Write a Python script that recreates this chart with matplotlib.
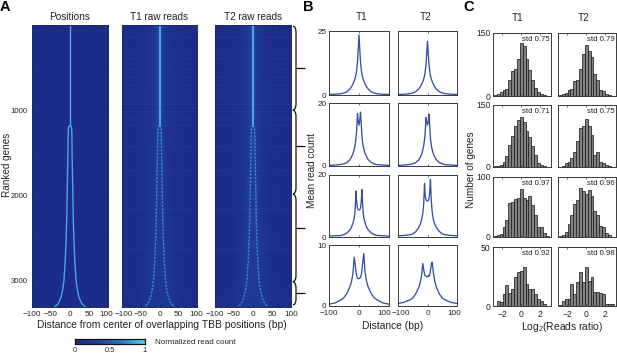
import numpy as np
import matplotlib
matplotlib.use("Agg")
import matplotlib.pyplot as plt
from matplotlib.colors import LinearSegmentedColormap
from matplotlib.path import Path
from matplotlib.patches import PathPatch
from matplotlib.transforms import ScaledTranslation

plt.rcParams['font.family'] = ['Liberation Sans', 'DejaVu Sans']
plt.rcParams['mathtext.default'] = 'regular'
plt.rcParams['axes.linewidth'] = 0.7

W, H = 617, 354
TXT = '#222222'
FRAME = '#3a3a3a'

# ---------- Panel A data ----------
TRACE_RANK = [1180, 1190, 1200, 1300, 1500, 1750, 2000, 2250, 2500, 2700, 2800, 2900, 3000, 3100, 3200, 3270, 3310]
TRACE_OFFSET = [0, 2.5, 4, 5, 5.5, 6.5, 7.5, 8.5, 10, 12, 13, 14.5, 16, 19, 24, 31, 40]
HEAT_X = [-100, -60, -40, -25, -15, -8, 0, 8, 15, 25, 40, 60, 100]
HEAT_RANK = [0, 500, 1000, 1180, 1500, 2000, 2500, 3000, 3310]
POS_HEAT = [[0.04] * 13 for _ in HEAT_RANK]
T1_HEAT = [
    [.04, .05, .07, .10, .15, .22, .42, .22, .15, .10, .07, .05, .04],
    [.04, .05, .07, .10, .15, .22, .42, .22, .15, .10, .07, .05, .04],
    [.04, .06, .08, .11, .16, .22, .42, .22, .16, .11, .08, .06, .04],
    [.04, .06, .08, .11, .17, .24, .38, .24, .17, .11, .08, .06, .04],
    [.04, .05, .07, .11, .18, .26, .28, .26, .18, .11, .07, .05, .04],
    [.04, .05, .07, .11, .20, .26, .24, .26, .20, .11, .07, .05, .04],
    [.04, .05, .08, .14, .23, .24, .21, .24, .23, .14, .08, .05, .04],
    [.04, .06, .09, .18, .22, .21, .20, .21, .22, .18, .09, .06, .04],
    [.05, .07, .14, .18, .19, .18, .18, .18, .19, .18, .14, .07, .05],
]
T2_HEAT = [
    [.04, .05, .07, .11, .17, .24, .42, .24, .17, .11, .07, .05, .04],
    [.04, .05, .07, .11, .17, .24, .42, .24, .17, .11, .07, .05, .04],
    [.04, .06, .08, .12, .18, .24, .42, .24, .18, .12, .08, .06, .04],
    [.04, .06, .08, .12, .19, .26, .38, .26, .19, .12, .08, .06, .04],
    [.04, .05, .07, .12, .20, .28, .30, .28, .20, .12, .07, .05, .04],
    [.04, .05, .07, .12, .22, .28, .26, .28, .22, .12, .07, .05, .04],
    [.04, .05, .09, .15, .25, .26, .24, .26, .25, .15, .09, .05, .04],
    [.04, .06, .10, .20, .24, .23, .22, .23, .24, .20, .10, .06, .04],
    [.05, .07, .15, .20, .21, .20, .19, .20, .21, .20, .15, .07, .05],
]
STREAK_RANK = [140, 300, 390, 520, 610, 700, 780, 850, 930, 1010, 1090, 1170, 1420, 1700, 2150, 2620]
RANK_TICKS = [500, 1000, 1500, 2000, 2500, 3000]
RANK_LABELS = ['', '1000', '', '2000', '', '3000']
BRACE_RANK = [0, 1000, 1985, 3013, 3285]
BRACE_TICKS = [504, 1418, 2380, 3141]

# ---------- Panel B data ----------
B_X = [-100, -80, -60, -50, -40, -30, -25, -20, -16, -13, -10, -8, -5, -3, 0, 3, 5, 8, 10, 13, 16, 20, 25, 30, 40, 50, 60, 80, 100]
B1_T1 = [.2, .3, .5, .8, 1.3, 2.4, 3.2, 4.4, 5.5, 6.5, 8, 9.5, 13, 17, 23.5, 17, 13, 9.5, 8, 6.5, 5.5, 4.4, 3.2, 2.4, 1.3, .8, .5, .3, .2]
B1_T2 = [.2, .3, .5, .8, 1.3, 2.3, 3.1, 4.2, 5.2, 6.2, 7.6, 9, 12, 15.5, 21, 15.5, 12, 9, 7.6, 6.2, 5.2, 4.2, 3.1, 2.3, 1.3, .8, .5, .3, .2]
B2_T1 = [.2, .3, .5, .7, 1.1, 2.0, 2.9, 3.9, 5.2, 6.6, 8.9, 11, 16.7, 14.5, 13, 14.8, 17.1, 12.5, 9.2, 6.8, 5.4, 4, 3, 2.1, 1.2, .7, .4, .3, .2]
B2_T2 = [.2, .3, .5, .7, 1.1, 1.9, 2.7, 3.7, 5, 6.4, 8.5, 10.5, 15.4, 14, 13, 14.4, 16.5, 12, 8.8, 6.5, 5.1, 3.8, 2.8, 2, 1.1, .7, .4, .3, .2]
B3_T1 = [.3, .4, .5, .8, 1.3, 2.3, 3.2, 4.5, 6.0, 8.5, 14.8, 11.5, 9.2, 8.8, 8.7, 8.9, 9.3, 12, 15.3, 9, 6.2, 4.6, 3.3, 2.4, 1.4, .8, .5, .4, .3]
B3_T2 = [.4, .5, .7, 1, 1.7, 3, 4, 5.5, 7.5, 10.5, 17.3, 13.5, 12, 11.7, 11.6, 11.8, 12.3, 15, 18.6, 11.5, 8, 5.6, 4.1, 3.1, 1.8, 1, .7, .5, .4]
B4_T1 = [.3, .5, 1, 1.4, 2.1, 3.2, 4, 5.4, 8, 7, 5.6, 5, 4.6, 4.5, 4.5, 4.6, 4.7, 5.2, 5.9, 7.4, 8.6, 5.6, 4.1, 3.2, 2.1, 1.4, 1, .5, .3]
B4_T2 = [.4, .6, 1, 1.3, 2, 3, 3.8, 5, 7, 6, 5.2, 5, 4.9, 4.8, 4.8, 5, 4.9, 5.2, 5.8, 6.8, 7.2, 5.4, 4, 3.1, 2, 1.3, 1, .6, .4]
B_YMAX = [25, 20, 20, 10]

# ---------- Panel C data ----------
C_BINS = [-2.7, -2.4, -2.1, -1.8, -1.5, -1.2, -.9, -.6, -.3, 0, .3, .6, .9, 1.2, 1.5, 1.8, 2.1, 2.4, 2.7]
C1_T1 = [2, 4, 10, 15, 17, 37, 60, 65, 87, 125, 118, 87, 61, 37, 20, 10, 5, 3, 1]
C1_T2 = [3, 5, 8, 15, 17, 36, 38, 65, 100, 122, 108, 93, 52, 37, 15, 13, 4, 3, 1]
C2_T1 = [2, 3, 6, 11, 26, 54, 75, 100, 114, 120, 110, 88, 72, 50, 30, 10, 4, 2, 0]
C2_T2 = [0, 2, 9, 13, 21, 37, 64, 94, 98, 115, 99, 77, 29, 37, 13, 9, 4, 2, 1]
C3_T1 = [1, 3, 5, 17, 29, 57, 58, 64, 65, 80, 65, 61, 69, 53, 37, 16, 17, 6, 2]
C3_T2 = [1, 3, 9, 22, 36, 55, 61, 81, 76, 72, 79, 69, 44, 36, 19, 17, 6, 3, 0]
C4_T1 = [0, 4, 3, 10, 18, 11, 14, 25, 29, 30, 33, 19, 14, 14, 10, 6, 4, 2, 0]
C4_T2 = [1, 4, 6, 6, 19, 10, 20, 29, 20, 33, 21, 25, 12, 12, 11, 10, 2, 2, 2]
C_YMAX = [150, 150, 100, 50]
C_STD = [['std 0.75', 'std 0.79'], ['std 0.71', 'std 0.75'], ['std 0.97', 'std 0.96'], ['std 0.92', 'std 0.98']]

CBAR_TICKS = [0, 0.5, 1]
CBAR_LABELS = ['0', '0.5', '1']

cmap = LinearSegmentedColormap.from_list('heat', ['#1b2a86', '#22429f', '#2c78c6', '#4fd8f4'])
fig = plt.figure(figsize=(W / 100, H / 100), dpi=100)


def axpx(x0, x1, y0, y1):
    return fig.add_axes([x0 / W, 1 - y1 / H, (x1 - x0) / W, (y1 - y0) / H])


def ftext(x, y, s, **kw):
    kw.setdefault('ha', 'center')
    kw.setdefault('va', 'center')
    kw.setdefault('color', TXT)
    return fig.text(x / W, 1 - y / H, s, **kw)


def style(ax, length=1.6, size=5.8):
    for s in ax.spines.values():
        s.set_color(FRAME)
    ax.tick_params(direction='in', length=length, width=0.5, labelsize=size, top=True, right=True,
                   colors=FRAME, labelcolor=TXT)
    ax.tick_params(axis='x', pad=3.2)
    ax.tick_params(axis='y', pad=1.8)


def shift_ends(ax, first_px, last_px):
    labels = ax.get_xticklabels()
    for lab, dx in ((labels[0], first_px), (labels[-1], last_px)):
        lab.set_transform(lab.get_transform() + ScaledTranslation(dx / 100, 0, fig.dpi_scale_trans))


# ---------- Panel A ----------
HEAT_RECTS = [(32, 108), (122, 197), (215, 291)]
HEAT_TITLES = ['Positions', 'T1 raw reads', 'T2 raw reads']
HEAT_SHIFTS = [(0, -2), (1.5, -1), (0, 0)]
for i, (rect, title, Z) in enumerate(zip(HEAT_RECTS, HEAT_TITLES, [POS_HEAT, T1_HEAT, T2_HEAT])):
    ax = axpx(rect[0], rect[1], 25, 307)
    ax.pcolormesh(HEAT_X, HEAT_RANK, np.array(Z), shading='gouraud', cmap=cmap, vmin=0, vmax=1, rasterized=True)
    off = np.array(TRACE_OFFSET)
    r = np.array(TRACE_RANK)
    if i == 0:
        ax.plot([0, 0], [0, TRACE_RANK[0]], color='#4aa6e4', lw=1.0, solid_capstyle='butt')
        ax.plot(off, r, color='#4aa6e4', lw=1.0)
        ax.plot(-off, r, color='#4aa6e4', lw=1.0)
    else:
        ax.plot([0, 0], [0, TRACE_RANK[0]], color='#46b4e8', lw=1.3, solid_capstyle='butt')
        ax.plot(off, r, color='#3f9ddc', lw=1.0, alpha=0.8, ls=(0, (1.6, 0.9)))
        ax.plot(-off, r, color='#3f9ddc', lw=1.0, alpha=0.8, ls=(0, (1.6, 0.9)))
        ax.hlines(STREAK_RANK, -100, 100, color='#5f8fe0', lw=0.4, alpha=0.13)
    ax.set_xlim(-100, 100)
    ax.set_ylim(3310, 0)
    ax.set_xticks([-100, -50, 0, 50, 100])
    ax.set_yticks(RANK_TICKS)
    ax.set_yticklabels(RANK_LABELS if i == 0 else [''] * len(RANK_TICKS))
    style(ax, size=5.9)
    ax.tick_params(axis='y', labelsize=5.6, pad=3)
    ax.tick_params(colors='#101840', labelcolor=TXT)
    for s in ax.spines.values():
        s.set_color('#222a60')
    shift_ends(ax, *HEAT_SHIFTS[i])
    ftext((rect[0] + rect[1]) / 2, 17.5, title, fontsize=7.2)

ftext(7, 165, 'Ranked genes', rotation=90, fontsize=7.2)
ftext(162, 325.5, 'Distance from center of overlapping TBB positions (bp)', fontsize=7.4)

# brace
bx = axpx(291, 306, 25, 307)
bx.set_xlim(0, 15)
bx.set_ylim(3310, 0)
bx.axis('off')
verts, codes = [], []
c = 70
sx, tx = 5, 2
verts += [(tx, BRACE_RANK[0] + 15), (sx, BRACE_RANK[0] + 15), (sx, BRACE_RANK[0] + 15 + c)]
codes += [Path.MOVETO, Path.CURVE3, Path.CURVE3]
for b in BRACE_RANK[1:-1]:
    verts += [(sx, b - c), (sx, b - 10), (tx, b), (sx, b + 10), (sx, b + c)]
    codes += [Path.LINETO, Path.CURVE3, Path.CURVE3, Path.CURVE3, Path.CURVE3]
verts += [(sx, BRACE_RANK[-1] - c), (sx, BRACE_RANK[-1]), (tx, BRACE_RANK[-1])]
codes += [Path.LINETO, Path.CURVE3, Path.CURVE3]
bx.add_patch(PathPatch(Path(verts, codes), fc='none', ec='#111111', lw=0.9))
bx.hlines(BRACE_TICKS, sx, 14, color='#111111', lw=0.9)

# colorbar
cax = axpx(75, 145, 339, 344)
cax.imshow(np.array([CBAR_TICKS[0] + np.arange(64) / 63.0]), aspect='auto', cmap=cmap, extent=[0, 1, 0, 1], vmin=0, vmax=1)
cax.set_xticks(CBAR_TICKS)
cax.set_xticklabels(CBAR_LABELS, fontsize=5.4, color=TXT)
cax.set_yticks([])
cax.tick_params(length=0, pad=1.8)
for s in cax.spines.values():
    s.set_color('#111111')
    s.set_linewidth(0.9)
ftext(155, 342.5, 'Normalized read count', fontsize=5.8, ha='left')

# ---------- Panel B ----------
B_COLS = [(329, 389), (398, 457)]
B_ROWS = [(31, 95), (103, 166), (175, 237), (245, 306)]
B_DATA = [[B1_T1, B1_T2], [B2_T1, B2_T2], [B3_T1, B3_T2], [B4_T1, B4_T2]]
B_SHIFTS = [(0, -5), (2.5, -3)]
for r, (ry, ymax) in enumerate(zip(B_ROWS, B_YMAX)):
    for c_i, cx in enumerate(B_COLS):
        ax = axpx(cx[0], cx[1], ry[0], ry[1])
        ax.plot(B_X, B_DATA[r][c_i], color='#3350a8', lw=0.95)
        ax.set_xlim(-100, 100)
        ax.set_ylim(0, ymax)
        ax.set_xticks([-100, 0, 100])
        ax.set_yticks([0, ymax])
        if r < 3:
            ax.set_xticklabels([])
        if c_i:
            ax.set_yticklabels([])
        style(ax, size=5.9)
        if r == 3:
            shift_ends(ax, *B_SHIFTS[c_i])
ftext(362, 17.5, 'T1', fontsize=7.2)
ftext(426, 17.5, 'T2', fontsize=7.2)
ftext(312, 170, 'Mean read count', rotation=90, fontsize=7.2)
ftext(393, 326, 'Distance (bp)', fontsize=7.4)

# ---------- Panel C ----------
C_COLS = [(493, 551), (558, 616)]
C_ROWS = [(33, 96), (105, 167), (177, 237), (247, 306)]
C_DATA = [[C1_T1, C1_T2], [C2_T1, C2_T2], [C3_T1, C3_T2], [C4_T1, C4_T2]]
for r, (ry, ymax) in enumerate(zip(C_ROWS, C_YMAX)):
    for c_i, cx in enumerate(C_COLS):
        ax = axpx(cx[0], cx[1], ry[0], ry[1])
        ax.bar(C_BINS, C_DATA[r][c_i], width=0.3, color='#808080', edgecolor='#222222', linewidth=0.55)
        ax.set_xlim(-2.95, 3.1)
        ax.set_ylim(0, ymax)
        ax.set_xticks([-2, 0, 2])
        ax.set_yticks([0, ymax])
        if r < 3:
            ax.set_xticklabels([])
        if c_i:
            ax.set_yticklabels([])
        style(ax, size=6.2)
        ax.text(0.97, 0.89, C_STD[r][c_i], transform=ax.transAxes, ha='right', va='center',
                fontsize=5.6, color=TXT)
ftext(518, 18, 'T1', fontsize=7.2)
ftext(584, 18, 'T2', fontsize=7.2)
ftext(471, 170, 'Number of genes', rotation=90, fontsize=7.2)
ftext(562, 327, 'Log$_2$(Reads ratio)', fontsize=7.4)

# panel letters
ftext(0, 7, 'A', fontsize=10.5, fontweight='bold', ha='left', color='black')
ftext(303, 7, 'B', fontsize=10.5, fontweight='bold', ha='left', color='black')
ftext(463, 7, 'C', fontsize=10.5, fontweight='bold', ha='left', color='black')

fig.savefig('out.png', dpi=100)
